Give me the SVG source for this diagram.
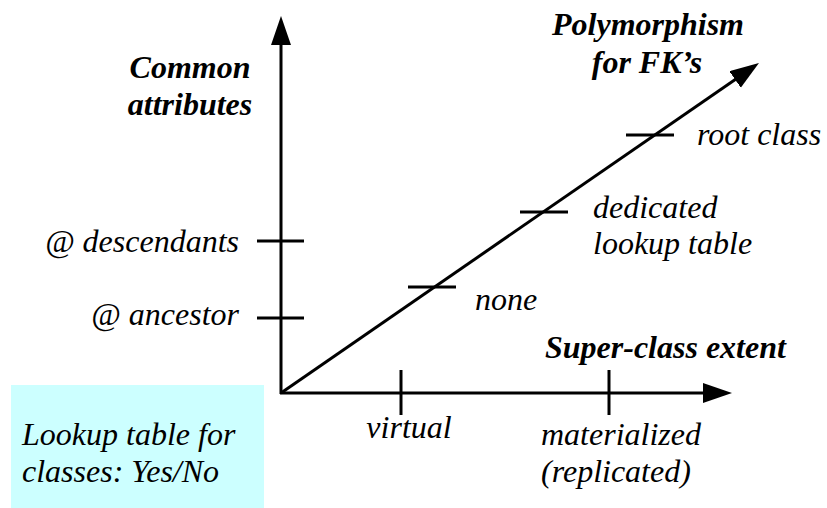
<svg xmlns="http://www.w3.org/2000/svg" width="827" height="508" viewBox="0 0 827 508">
<defs>
<marker id="ah" markerUnits="userSpaceOnUse" markerWidth="32" markerHeight="22" refX="9" refY="10" orient="auto">
<path d="M0,0 L29,10 L0,20 Z" fill="#000"/>
</marker>
</defs>
<rect width="827" height="508" fill="#fff"/>
<g id="lookup-box">
<rect x="11" y="385" width="253" height="123" fill="#ccffff"/>
<text x="22" y="445" font-family="Liberation Serif" font-style="italic" font-size="32">Lookup table for</text>
<text x="22" y="482" font-family="Liberation Serif" font-style="italic" font-size="32">classes: Yes/No</text>
</g>
<g id="connectors" stroke="#000" stroke-width="3" fill="none">
<line x1="281" y1="394" x2="281" y2="36" marker-end="url(#ah)"/>
<line x1="280" y1="393" x2="712" y2="393" marker-end="url(#ah)"/>
<line x1="281" y1="393" x2="742.5" y2="74.4" marker-end="url(#ah)"/>
</g>
<g id="common-attributes">
<text x="190" y="78" text-anchor="middle" font-family="Liberation Serif" font-style="italic" font-weight="bold" font-size="32">Common</text>
<text x="190" y="115" text-anchor="middle" font-family="Liberation Serif" font-style="italic" font-weight="bold" font-size="32">attributes</text>
</g>
<g id="descendants">
<line x1="257" y1="241" x2="304" y2="241" stroke="#000" stroke-width="3"/>
<text x="239" y="252" text-anchor="end" font-family="Liberation Serif" font-style="italic" font-size="32">@ descendants</text>
</g>
<g id="ancestor">
<line x1="257" y1="318" x2="304" y2="318" stroke="#000" stroke-width="3"/>
<text x="239" y="325" text-anchor="end" font-family="Liberation Serif" font-style="italic" font-size="32">@ ancestor</text>
</g>
<g id="polymorphism">
<text x="648" y="35" text-anchor="middle" font-family="Liberation Serif" font-style="italic" font-weight="bold" font-size="32">Polymorphism</text>
<text x="647" y="73" text-anchor="middle" font-family="Liberation Serif" font-style="italic" font-weight="bold" font-size="32">for FK&#8217;s</text>
</g>
<g id="none">
<line x1="408" y1="287" x2="456" y2="287" stroke="#000" stroke-width="3"/>
<text x="475" y="310" font-family="Liberation Serif" font-style="italic" font-size="32">none</text>
</g>
<g id="dedicated">
<line x1="520" y1="212" x2="568" y2="212" stroke="#000" stroke-width="3"/>
<text x="593" y="218" font-family="Liberation Serif" font-style="italic" font-size="32">dedicated</text>
<text x="593" y="254" font-family="Liberation Serif" font-style="italic" font-size="32">lookup table</text>
</g>
<g id="root-class">
<line x1="626" y1="135" x2="674" y2="135" stroke="#000" stroke-width="3"/>
<text x="697" y="145" font-family="Liberation Serif" font-style="italic" font-size="32">root class</text>
</g>
<g id="super-class-extent">
<text x="545" y="358" font-family="Liberation Serif" font-style="italic" font-weight="bold" font-size="32">Super-class extent</text>
</g>
<g id="virtual">
<line x1="401" y1="370" x2="401" y2="415" stroke="#000" stroke-width="3"/>
<text x="409" y="438" text-anchor="middle" font-family="Liberation Serif" font-style="italic" font-size="32">virtual</text>
</g>
<g id="materialized">
<line x1="609" y1="370" x2="609" y2="415" stroke="#000" stroke-width="3"/>
<text x="541" y="445" font-family="Liberation Serif" font-style="italic" font-size="32">materialized</text>
<text x="541" y="482" font-family="Liberation Serif" font-style="italic" font-size="32">(replicated)</text>
</g>
</svg>
